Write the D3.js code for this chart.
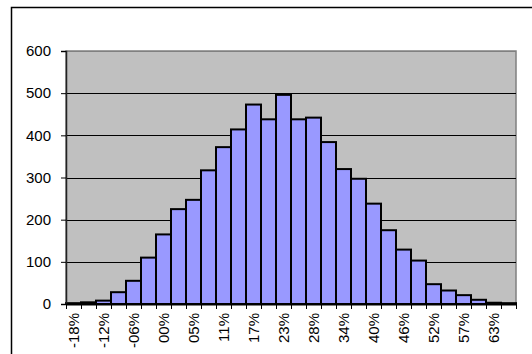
<!DOCTYPE html>
<html><head><meta charset="utf-8">
<script src="https://cdn.jsdelivr.net/npm/d3@7"></script>
<style>body{margin:0;background:#fff}svg{display:block}text{font-family:"Liberation Sans",Arial,sans-serif;font-size:15px;fill:#000}</style>
</head><body><svg id="c" width="532" height="354"></svg>
<script>
const categories = ["-18%","-15%","-12%","-09%","-06%","-03%","00%","03%","05%","08%","11%","14%","17%","20%","23%","26%","28%","31%","34%","37%","40%","43%","46%","49%","52%","54%","57%","60%","63%","66%"];
const counts = [2,4,8,28,55,110,165,225,247,317,372,414,473,438,496,438,442,384,320,297,238,175,129,103,47,32,21,10,3,2];
const yTicks = [0,100,200,300,400,500,600];

const svg = d3.select("#c");
const L = 66, R = 516, T = 51, B = 304;

svg.append("rect").attr("x",11.5).attr("y",7.5).attr("width",700).attr("height",700)
  .attr("fill","#fff").attr("stroke","#000").attr("stroke-width",1.5);

const x = d3.scaleBand().domain(categories).range([L,R]).padding(0);
const y = d3.scaleLinear().domain([0,600]).range([B,T]);

svg.append("rect").attr("x",L).attr("y",T).attr("width",R-L).attr("height",B-T)
  .attr("fill","#C0C0C0").attr("stroke","#808080").attr("stroke-width",1.5);

svg.append("g").selectAll("line").data(yTicks.filter(d=>d>0)).join("line")
  .attr("x1",L).attr("x2",R).attr("y1",d=>Math.round(y(d))+0.5).attr("y2",d=>Math.round(y(d))+0.5)
  .attr("stroke", d=>d===600?"#808080":"#000").attr("stroke-width",1);

svg.append("g").selectAll("rect").data(counts).join("rect")
  .attr("x",(d,i)=>x(categories[i])).attr("width",x.bandwidth())
  .attr("y",d=>y(d)).attr("height",d=>B-y(d))
  .attr("fill","#9999FF").attr("stroke","#000").attr("stroke-width",2);

// y axis
const ya = svg.append("g").attr("transform",`translate(${L},0)`)
  .call(d3.axisLeft(y).tickValues(yTicks).tickSize(5).tickPadding(10).tickFormat(d3.format("d")));
ya.select(".domain").attr("stroke","#222").attr("stroke-width",1.5);
ya.selectAll("line").attr("stroke","#000");
ya.selectAll("text").style("font-size","15px").attr("fill","#000").attr("font-family","Liberation Sans, Arial, sans-serif");

// x axis
svg.append("line").attr("x1",L).attr("x2",R).attr("y1",B+0.5).attr("y2",B+0.5).attr("stroke","#000").attr("stroke-width",2);
const bounds = d3.range(categories.length+1).map(i=>L + i*x.step());
svg.append("g").selectAll("line").data(bounds).join("line")
  .attr("x1",d=>Math.round(d)+0.5).attr("x2",d=>Math.round(d)+0.5).attr("y1",B).attr("y2",B+5).attr("stroke","#000");
svg.append("g").selectAll("text").data(categories.filter((d,i)=>i%2===0)).join("text")
  .attr("transform",d=>`translate(${x(d)+x.bandwidth()/2+5.5},${B+9}) rotate(-90)`)
  .attr("text-anchor","end").text(d=>d);
</script></body></html>
